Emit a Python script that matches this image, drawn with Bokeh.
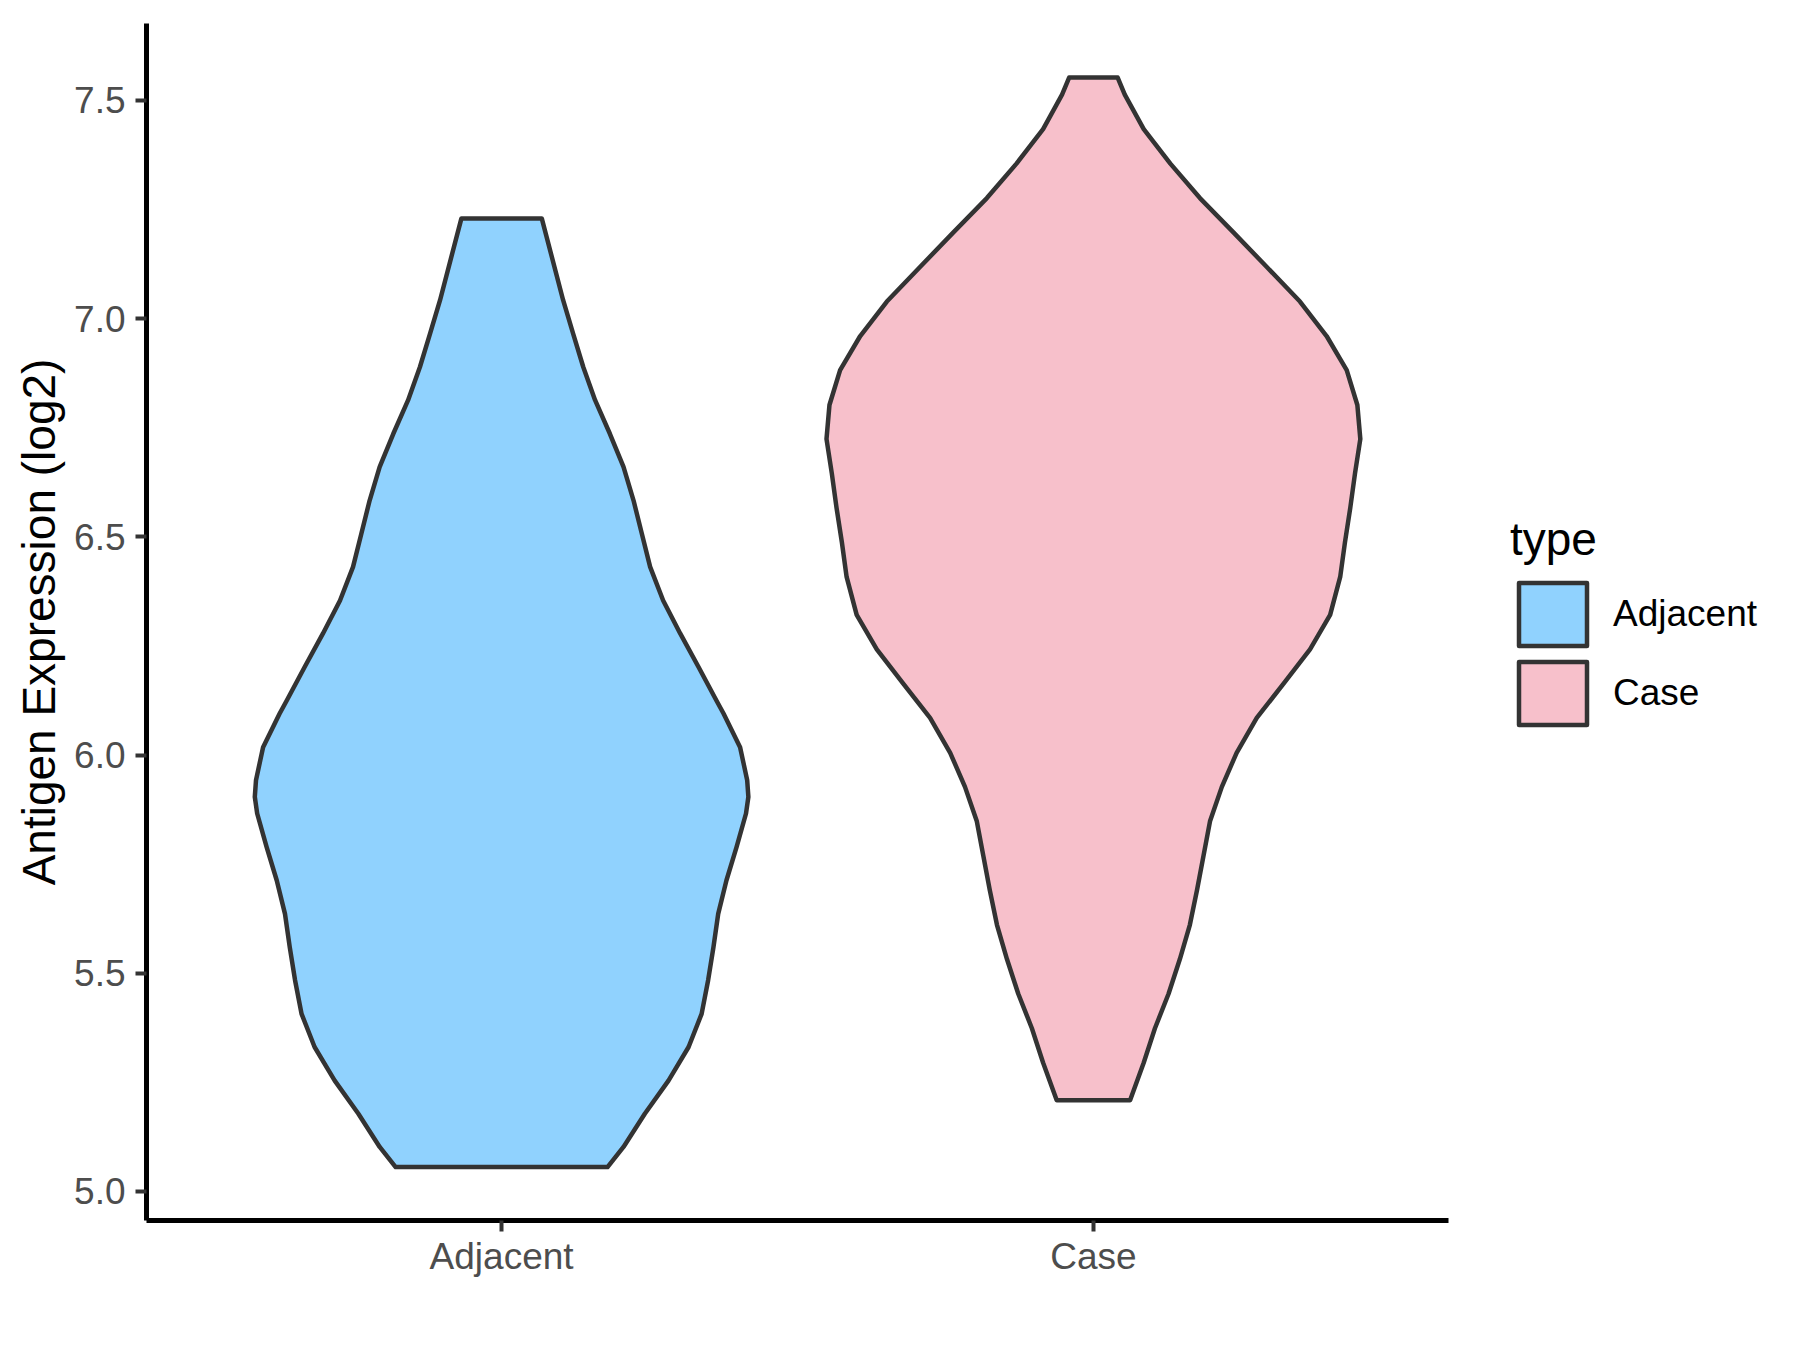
from bokeh.plotting import figure
from bokeh.models import Range1d, FixedTicker, Legend, LegendItem
from bokeh.embed import file_html
from bokeh.resources import INLINE

# ---------------- data ----------------
categories = ["Adjacent", "Case"]
fill_colors = ["#90D2FE", "#F7C0CB"]

# violin outline: expression value and half-width (in category units), top to bottom
adjacent_y = [7.229, 7.042, 6.965, 6.889, 6.813, 6.736, 6.660, 6.583, 6.507, 6.431,
              6.354, 6.278, 6.201, 6.125, 6.095, 6.018, 5.942, 5.904, 5.866, 5.789,
              5.713, 5.636, 5.560, 5.484, 5.407, 5.331, 5.254, 5.178, 5.102, 5.056]
adjacent_halfwidth = [0.068, 0.104, 0.121, 0.138, 0.158, 0.183, 0.206, 0.223, 0.237, 0.251,
                      0.273, 0.302, 0.333, 0.363, 0.375, 0.403, 0.415, 0.417, 0.413, 0.397,
                      0.380, 0.366, 0.358, 0.349, 0.338, 0.316, 0.282, 0.242, 0.206, 0.179]

case_y = [7.552, 7.513, 7.434, 7.355, 7.276, 7.197, 7.118, 7.039, 6.960, 6.882,
          6.802, 6.724, 6.645, 6.566, 6.487, 6.408, 6.321, 6.242, 6.163, 6.085,
          6.005, 5.927, 5.848, 5.769, 5.690, 5.611, 5.532, 5.453, 5.374, 5.295, 5.209]
case_halfwidth = [0.041, 0.053, 0.085, 0.130, 0.180, 0.237, 0.293, 0.349, 0.394, 0.428,
                  0.446, 0.451, 0.442, 0.434, 0.425, 0.417, 0.400, 0.366, 0.321, 0.276,
                  0.242, 0.217, 0.197, 0.186, 0.175, 0.163, 0.146, 0.127, 0.104, 0.085, 0.062]

y_ticks = [5.0, 5.5, 6.0, 6.5, 7.0, 7.5]
y_tick_labels = ["5.0", "5.5", "6.0", "6.5", "7.0", "7.5"]
y_axis_title = "Antigen Expression (log2)"
legend_title = "type"

FONT = "Liberation Sans"

# ---------------- figure ----------------
p = figure(
    width=1784, height=1334,
    frame_width=1302, frame_height=1197,
    min_border_left=146, min_border_top=23, min_border_bottom=114, min_border_right=336,
    x_range=Range1d(0.4, 2.6), y_range=Range1d(4.9335, 7.676),
    output_backend="svg", toolbar_location=None,
)
p.outline_line_color = None
p.xgrid.visible = False
p.ygrid.visible = False
p.background_fill_color = "white"
p.border_fill_color = "white"

profiles = [(adjacent_y, adjacent_halfwidth), (case_y, case_halfwidth)]
renderers = []
for i, (ys, hws) in enumerate(profiles):
    c = i + 1
    left_x = [c - h for h in hws]
    right_x = [c + h for h in hws]
    xs = left_x + right_x[::-1]
    yy = list(ys) + list(ys)[::-1]
    r = p.patch(xs, yy, fill_color=fill_colors[i], line_color="#333333",
                line_width=4.5, line_join="round")
    renderers.append(r)

# axes
for ax in (p.xaxis[0], p.yaxis[0]):
    ax.axis_line_color = "black"
    ax.axis_line_width = 5
    ax.major_tick_line_color = "#333333"
    ax.major_tick_line_width = 4
    ax.major_tick_out = 11
    ax.major_tick_in = 0
    ax.minor_tick_line_color = None
    ax.major_label_text_font = FONT
    ax.major_label_text_font_size = "37px"
    ax.major_label_text_color = "#4D4D4D"

p.xaxis.ticker = FixedTicker(ticks=[1, 2])
p.xaxis.major_label_overrides = {i + 1: cat for i, cat in enumerate(categories)}
p.xaxis.major_label_standoff = 4

p.yaxis.ticker = FixedTicker(ticks=y_ticks)
p.yaxis.major_label_overrides = {t: lab for t, lab in zip(y_ticks, y_tick_labels)}
p.yaxis.major_label_standoff = 10
p.yaxis.axis_label = y_axis_title
p.yaxis.axis_label_text_font = FONT
p.yaxis.axis_label_text_font_size = "46px"
p.yaxis.axis_label_text_font_style = "normal"
p.yaxis.axis_label_text_color = "black"
p.yaxis.axis_label_standoff = 6

legend = Legend(
    items=[LegendItem(label=cat, renderers=[r]) for cat, r in zip(categories, renderers)],
    title=legend_title,
    location="center_left",
    orientation="vertical",
    margin=62, padding=0,
    glyph_width=85, glyph_height=79,
    label_standoff=18, spacing=0,
    label_text_font=FONT, label_text_font_size="37px", label_text_color="black",
    title_text_font=FONT, title_text_font_size="46px", title_text_color="black",
    title_text_font_style="normal", title_standoff=9,
    border_line_color=None, background_fill_alpha=0,
)
p.add_layout(legend, "right")

open("out.html", "w").write(file_html(p, INLINE))
